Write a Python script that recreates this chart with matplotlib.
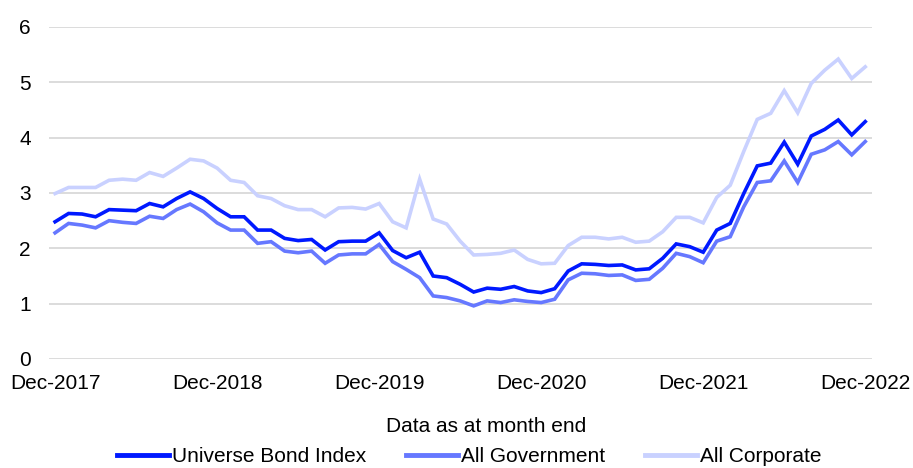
import matplotlib
matplotlib.use("Agg")
import matplotlib.pyplot as plt

plt.rcParams['font.family'] = ['Liberation Sans', 'DejaVu Sans']

# monthly values, Dec-2017 .. Dec-2022
universe = [2.48, 2.63, 2.62, 2.57, 2.70, 2.69, 2.68, 2.81, 2.75, 2.90,
            3.02, 2.90, 2.72, 2.57, 2.57, 2.33, 2.33, 2.18, 2.14, 2.16,
            1.97, 2.12, 2.13, 2.13, 2.28, 1.96, 1.83, 1.93, 1.50, 1.47,
            1.35, 1.21, 1.28, 1.26, 1.31, 1.23, 1.20, 1.27, 1.59, 1.72,
            1.71, 1.69, 1.70, 1.61, 1.63, 1.82, 2.08, 2.03, 1.93, 2.33,
            2.45, 2.99, 3.49, 3.54, 3.92, 3.52, 4.03, 4.15, 4.32, 4.05,
            4.29]
government = [2.28, 2.45, 2.42, 2.37, 2.50, 2.47, 2.45, 2.58, 2.54, 2.70,
              2.80, 2.66, 2.46, 2.33, 2.33, 2.09, 2.12, 1.95, 1.92, 1.95,
              1.73, 1.88, 1.90, 1.90, 2.07, 1.76, 1.62, 1.47, 1.14, 1.11,
              1.05, 0.96, 1.05, 1.02, 1.07, 1.04, 1.02, 1.08, 1.43, 1.55,
              1.54, 1.51, 1.52, 1.42, 1.44, 1.64, 1.91, 1.85, 1.74, 2.13,
              2.21, 2.75, 3.19, 3.22, 3.58, 3.19, 3.70, 3.78, 3.93, 3.69,
              3.93]
corporate = [2.99, 3.10, 3.10, 3.10, 3.23, 3.25, 3.23, 3.37, 3.30, 3.45,
             3.61, 3.58, 3.45, 3.23, 3.19, 2.95, 2.90, 2.77, 2.70, 2.70,
             2.57, 2.73, 2.74, 2.71, 2.81, 2.48, 2.37, 3.25, 2.53, 2.44,
             2.13, 1.88, 1.89, 1.91, 1.97, 1.80, 1.72, 1.73, 2.05, 2.20,
             2.20, 2.17, 2.20, 2.11, 2.13, 2.30, 2.56, 2.56, 2.46, 2.92,
             3.14, 3.75, 4.33, 4.44, 4.85, 4.45, 4.98, 5.22, 5.42, 5.07,
             5.28]
tick_labels = ['Dec-2017', 'Dec-2018', 'Dec-2019', 'Dec-2020', 'Dec-2021', 'Dec-2022']
names = ['Universe Bond Index', 'All Government', 'All Corporate']
colors = ['#0019FF', '#6678FF', '#C9D1FF']

fig = plt.figure(figsize=(9.13, 4.68), dpi=100)
ax = fig.add_axes([49 / 913, 1 - 359 / 468, (872 - 49) / 913, (359 - 27) / 468])

months = range(len(universe))
# draw light first so the dark line sits on top
for series, name, col in list(zip([universe, government, corporate], names, colors))[::-1]:
    ax.plot(months, series, color=col, lw=2.6, label=name, solid_joinstyle='miter')

ax.set_ylim(0, 6)
ax.set_xlim(-0.45, 60.5)
ax.set_yticks(range(7))
ax.set_xticks(range(0, 61, 12))
ax.set_xticklabels(tick_labels)
ax.tick_params(length=0, labelsize=15, colors='black')
ax.tick_params(axis='x', pad=11)
ax.tick_params(axis='y', pad=13)
ax.grid(axis='y', color='#D9D9D9', lw=1.3)
ax.set_axisbelow(True)
for s in ax.spines.values():
    s.set_visible(False)

fig.text(486 / 913, 1 - 426 / 468, 'Data as at month end', ha='center', va='center', fontsize=15)

handles, labels = ax.get_legend_handles_labels()
fig.legend(handles[::-1], labels[::-1], loc='center', bbox_to_anchor=(469 / 913, 1 - 457 / 468),
           ncol=3, frameon=False, fontsize=15, handlelength=2.5, handletextpad=0.15,
           columnspacing=1.9, borderaxespad=0, borderpad=0)
for line in fig.legends[0].get_lines():
    line.set_linewidth(3.5)

fig.savefig('out.png', dpi=100)
